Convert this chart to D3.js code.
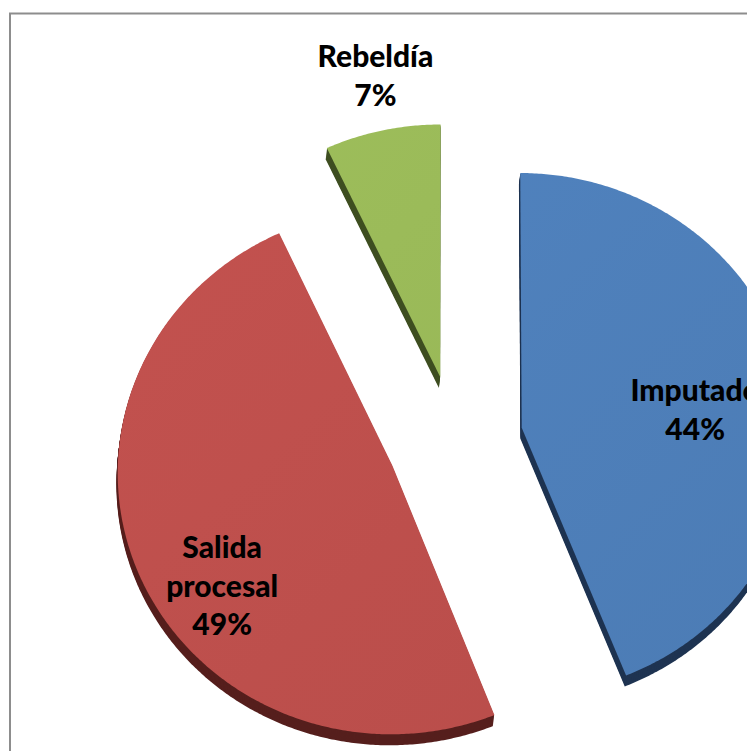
<!DOCTYPE html>
<html><head><meta charset="utf-8">
<script src="https://cdn.jsdelivr.net/npm/d3@7"></script>
<style>html,body{margin:0;padding:0;background:#fff;overflow:hidden}</style>
</head><body><svg id="chart" width="747" height="751"></svg>
<script>
// ---- data ----
const categories = ["Imputado", "Salida procesal", "Rebeldía"];
const values = [44, 49, 7];
const percentLabels = ["44%", "49%", "7%"];
const labelWords = [["Imputado"], ["Salida", "procesal"], ["Rebeldía"]];

// ---- style / layout ----
const faceColors = ["#4F81BD", "#C0504D", "#9BBB59"];
const sideColors = ["#1F3452", "#561F1D", "#3E4E20"];
const labelRadial = [0.67, 0.67, 1.23];
const labelNudge = [[-6, 15], [0, 50], [6, 1]];

const svg = d3.select("#chart");
svg.append("rect").attr("x", 10).attr("y", 13.5).attr("width", 800).attr("height", 800)
  .attr("fill", "none").attr("stroke", "#8d8d8d").attr("stroke-width", 2);

const cx = 455, cy = 440, R = 274, explode = 68;
const tilt = 17.6 * Math.PI / 180, cosT = Math.cos(tilt), sinT = Math.sin(tilt), D = 3640;
function project(u, v) { const s = D / (D - v * sinT); return [cx + u * s, cy + v * cosT * s]; }

const arcs = d3.pie().sort(null).value(d => d)(values);
const line = d3.line().curve(d3.curveLinearClosed);

function slicePoints(d) {
  const m = (d.startAngle + d.endAngle) / 2;
  const eu = explode * Math.sin(m), ev = -explode * Math.cos(m);
  const pts = [project(eu, ev)];
  const n = Math.max(10, Math.ceil((d.endAngle - d.startAngle) / (Math.PI / 360)));
  for (let i = 0; i <= n; i++) {
    const a = d.startAngle + (d.endAngle - d.startAngle) * i / n;
    pts.push(project(eu + R * Math.sin(a), ev - R * Math.cos(a)));
  }
  return pts;
}

const defs = svg.append("defs");
faceColors.forEach((c, i) => {
  const g = defs.append("linearGradient").attr("id", "g" + i)
    .attr("gradientUnits", "userSpaceOnUse").attr("x1", 100).attr("y1", 120).attr("x2", 700).attr("y2", 740);
  g.append("stop").attr("offset", 0).attr("stop-color", d3.color(c).brighter(0.06));
  g.append("stop").attr("offset", 1).attr("stop-color", d3.color(c).darker(0.12));
});

const slices = svg.append("g").selectAll("g").data(arcs).join("g");
slices.each(function (d, i) {
  const g = d3.select(this);
  const pts = slicePoints(d);
  for (let k = 11; k >= 1; k--) {
    g.append("path").attr("d", line(pts)).attr("fill", sideColors[i])
      .attr("transform", `translate(${-0.12 * k},${k})`);
  }
  g.append("path").attr("d", line(pts)).attr("fill", `url(#g${i})`);
});

// labels
const lh = 38.5, capHalf = 10.5;
const labels = svg.append("g").attr("font-family", "Lato, 'Open Sans', sans-serif")
  .attr("font-weight", 900).attr("font-size", 30).attr("fill", "#000").attr("text-anchor", "middle");
arcs.forEach((d, i) => {
  const m = (d.startAngle + d.endAngle) / 2;
  const dist = explode + labelRadial[i] * R;
  const p = project(dist * Math.sin(m), -dist * Math.cos(m));
  const x = p[0] + labelNudge[i][0], y = p[1] + labelNudge[i][1];
  const lines = labelWords[i].concat([percentLabels[i]]);
  const t = labels.append("text").attr("x", x);
  lines.forEach((s, j) => {
    t.append("tspan").attr("x", x).attr("y", y + (j - (lines.length - 1) / 2) * lh + capHalf).text(s);
  });
});
</script>
</body></html>
